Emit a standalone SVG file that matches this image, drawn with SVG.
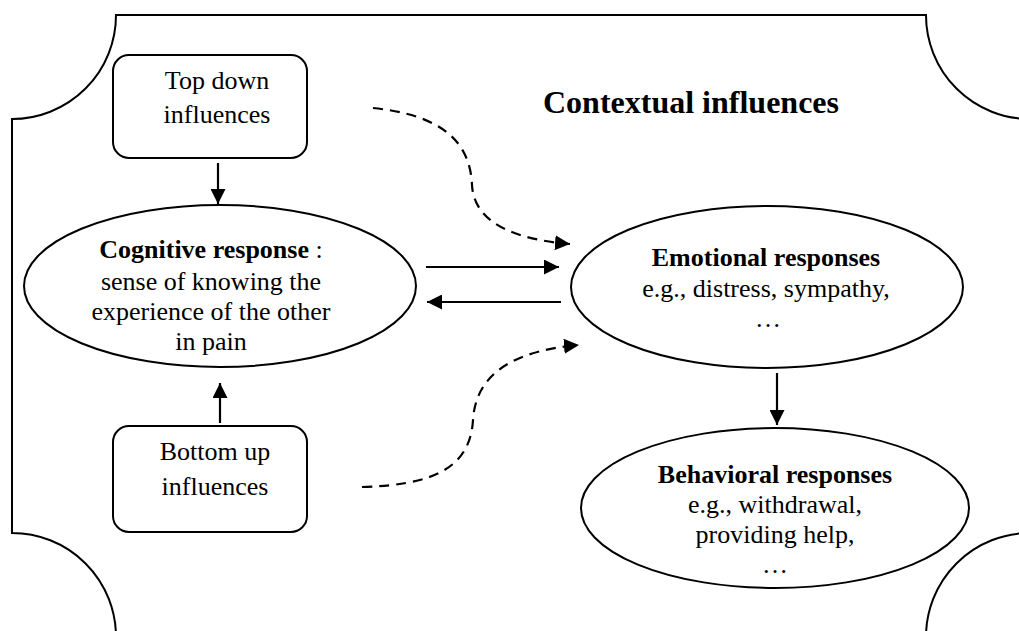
<svg xmlns="http://www.w3.org/2000/svg" width="1019" height="631" viewBox="0 0 1019 631">
<style>
.shape{fill:#fff;stroke:#000;stroke-width:2}
.conn{fill:none;stroke:#000;stroke-width:2.2}
.dash{stroke-dasharray:10 7}
</style>
<defs>
<marker id="ah" viewBox="0 0 10 10" refX="10" refY="5" markerWidth="15" markerHeight="15" markerUnits="userSpaceOnUse" orient="auto">
<path d="M0,0 L10,5 L0,10 Z" fill="#000"/>
</marker>
</defs>
<g id="frame">
<path class="shape" d="M116,15 H926 A104,104 0 0 0 1030,119 V533 A104,104 0 0 0 926,637 H116 A104,104 0 0 0 12,533 V119 A104,104 0 0 0 116,15 Z"/>
<text font-family="Liberation Serif" font-size="32" font-weight="bold" text-anchor="middle" x="691" y="113">Contextual influences</text>
</g>
<g id="topdown">
<rect class="shape" x="113" y="55" width="194" height="103" rx="16"/>
<text font-family="Liberation Serif" font-size="26" text-anchor="middle" x="217" y="89">Top down</text>
<text font-family="Liberation Serif" font-size="26" text-anchor="middle" x="217" y="123">influences</text>
</g>
<g id="bottomup">
<rect class="shape" x="113" y="426" width="194" height="106" rx="16"/>
<text font-family="Liberation Serif" font-size="26" text-anchor="middle" x="215" y="460">Bottom up</text>
<text font-family="Liberation Serif" font-size="26" text-anchor="middle" x="215" y="495">influences</text>
</g>
<g id="cognitive">
<ellipse class="shape" cx="220" cy="286" rx="196" ry="81"/>
<text font-family="Liberation Serif" font-size="26" text-anchor="middle" x="211" y="258"><tspan font-weight="bold">Cognitive response</tspan> :</text>
<text font-family="Liberation Serif" font-size="26" text-anchor="middle" x="211" y="290">sense of knowing the</text>
<text font-family="Liberation Serif" font-size="26" text-anchor="middle" x="211" y="320">experience of the other</text>
<text font-family="Liberation Serif" font-size="26" text-anchor="middle" x="211" y="350">in pain</text>
</g>
<g id="emotional">
<ellipse class="shape" cx="767" cy="287" rx="196" ry="81"/>
<text font-family="Liberation Serif" font-size="26" font-weight="bold" text-anchor="middle" x="766" y="266">Emotional responses</text>
<text font-family="Liberation Serif" font-size="26" text-anchor="middle" x="766" y="297">e.g., distress, sympathy,</text>
<text font-family="Liberation Serif" font-size="26" text-anchor="middle" x="768" y="327">…</text>
</g>
<g id="behavioral">
<ellipse class="shape" cx="775" cy="508" rx="194" ry="80"/>
<text font-family="Liberation Serif" font-size="26" font-weight="bold" text-anchor="middle" x="775" y="483">Behavioral responses</text>
<text font-family="Liberation Serif" font-size="26" text-anchor="middle" x="775" y="513">e.g., withdrawal,</text>
<text font-family="Liberation Serif" font-size="26" text-anchor="middle" x="775" y="543">providing help,</text>
<text font-family="Liberation Serif" font-size="26" text-anchor="middle" x="775" y="573">…</text>
</g>
<g id="connectors">
<path class="conn" d="M218,163 V204" marker-end="url(#ah)"/>
<path class="conn" d="M220,423 V383" marker-end="url(#ah)"/>
<path class="conn" d="M426,267 H559" marker-end="url(#ah)"/>
<path class="conn" d="M561,302 H427" marker-end="url(#ah)"/>
<path class="conn" d="M777,373 V425" marker-end="url(#ah)"/>
<path class="conn dash" d="M373,108 C440,115 470,140 472,185 C474,225 520,240 570,244" marker-end="url(#ah)"/>
<path class="conn dash" d="M362,487 C430,485 470,470 473,420 C476,370 520,350 579,345" marker-end="url(#ah)"/>
</g>
</svg>
